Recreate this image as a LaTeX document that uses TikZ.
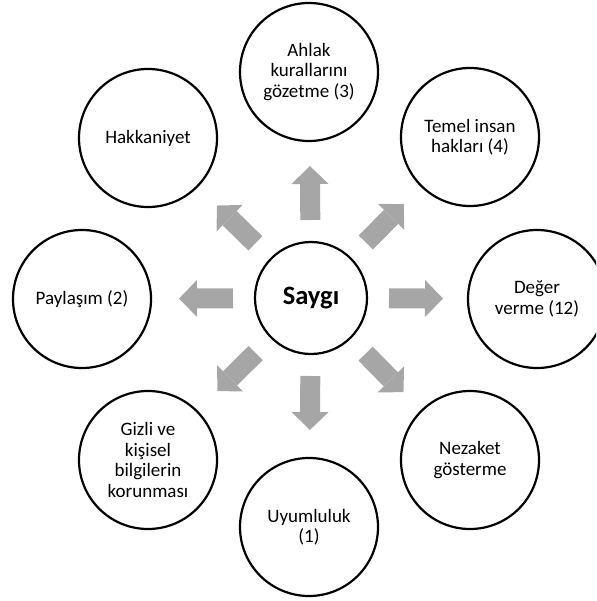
\documentclass[tikz,border=0pt]{standalone}
\usepackage{fontspec}
\setmainfont{Carlito}
\usetikzlibrary{calc,arrows.meta}
\definecolor{okgri}{HTML}{A6A6A6}
\newcommand{\metin}{\fontsize{19}{20.5}\selectfont}
\newcommand{\baslik}{\fontsize{26.5}{30}\selectfont\bfseries}
\begin{document}
\begin{tikzpicture}[x=1pt,y=-1pt]
  \tikzstyle{deger}=[draw, circle, line width=2.2pt, minimum size=138pt, inner sep=0pt, align=center, font=\metin];
  \tikzstyle{ok}=[line width=20pt, color=okgri, -{Triangle[length=18pt,width=37pt,line width=0pt]}];

  \useasboundingbox (0,0) rectangle (596,601);
  \clip (0,0) rectangle (596,601);

  % center
  \node[deger, minimum size=112pt, font=\baslik] (saygi) at (311, 298) {Saygı};

  % outer circles
  \node[deger] (ahlak) at (309, 72) {Ahlak\\kurallarını\\gözetme (3)};
  \node[deger] (temel) at (470, 137) {Temel insan\\hakları (4)};
  \node[deger] (degerv) at (537, 299) {Değer\\verme (12)};
  \node[deger] (nezaket) at (470, 460) {Nezaket\\gösterme};
  \node[deger] (uyum) at (309, 527) {Uyumluluk\\(1)};
  \node[deger] (gizli) at (148, 460) {Gizli ve\\kişisel\\bilgilerin\\korunması};
  \node[deger] (paylasim) at (82, 299) {Paylaşım (2)};
  \node[deger] (hakkaniyet) at (148, 138) {Hakkaniyet};

  % arrows
  \foreach \hedef in {ahlak,temel,degerv,nezaket,uyum,gizli,paylasim,hakkaniyet}
    \draw [ok] ($(saygi)!78pt!(\hedef)$) -- ($(saygi)!132pt!(\hedef)$);

\end{tikzpicture}
\end{document}
